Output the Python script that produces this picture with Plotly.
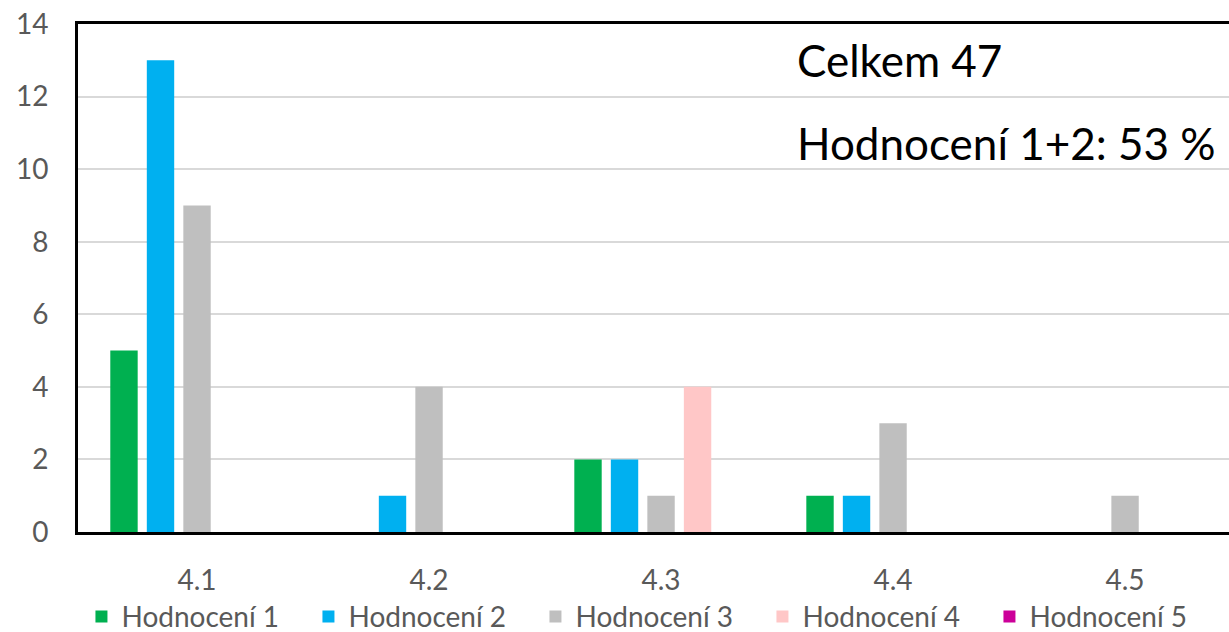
import plotly.graph_objects as go

categories = ["4.1", "4.2", "4.3", "4.4", "4.5"]
series_names = ["Hodnocení 1", "Hodnocení 2", "Hodnocení 3", "Hodnocení 4", "Hodnocení 5"]
hodnoceni_1 = [5, 0, 2, 1, 0]
hodnoceni_2 = [13, 1, 2, 1, 0]
hodnoceni_3 = [9, 4, 1, 3, 1]
hodnoceni_4 = [0, 0, 4, 0, 0]
hodnoceni_5 = [0, 0, 0, 0, 0]
colors = ["#00B050", "#00B0F0", "#BFBFBF", "#FFC7C7", "#CC0099"]
y_ticks = [0, 2, 4, 6, 8, 10, 12, 14]
annotation_lines = ["Celkem 47", "Hodnocení 1+2: 53 %"]

FONT = "Lato"
GRAY = "#595959"

fig = go.Figure()
for name, vals, col in zip(series_names,
                           [hodnoceni_1, hodnoceni_2, hodnoceni_3, hodnoceni_4, hodnoceni_5],
                           colors):
    fig.add_trace(go.Bar(name=name, x=categories, y=vals, marker_color=col,
                         marker_line_width=0))

fig.update_layout(
    width=1229, height=632,
    margin=dict(l=78, r=0, t=24, b=100, pad=0, autoexpand=False),
    paper_bgcolor="white", plot_bgcolor="white",
    barmode="group", bargap=0.213, bargroupgap=0.25,
    font=dict(family=FONT, color=GRAY),
    showlegend=True,
    legend=dict(orientation="h", x=0.003, xanchor="left", y=-0.167, yanchor="middle",
                font=dict(family=FONT, size=28, color=GRAY),
                entrywidth=182, entrywidthmode="pixels",
                itemsizing="constant", traceorder="normal"),
)
fig.update_xaxes(type="category", range=[-0.513, 4.448],
                 showline=True, linecolor="black", linewidth=3, mirror=True,
                 showgrid=False, ticks="", ticklabelstandoff=21,
                 tickfont=dict(family=FONT, size=28, color=GRAY))
fig.update_yaxes(range=[0, 14], tickvals=y_ticks,
                 showline=True, linecolor="black", linewidth=3, mirror=False,
                 showgrid=True, gridcolor="#D9D9D9", gridwidth=2,
                 zeroline=False, ticks="", ticklabelstandoff=21,
                 tickfont=dict(family=FONT, size=28, color=GRAY))

fig.add_annotation(text=annotation_lines[0], xref="paper", yref="paper",
                   x=(795 - 78) / 1151, y=(532 - 60) / 508, xanchor="left", yanchor="middle",
                   showarrow=False, font=dict(family=FONT, size=44, color="black"))
fig.add_annotation(text=annotation_lines[1], xref="paper", yref="paper",
                   x=(795 - 78) / 1151, y=(532 - 143) / 508, xanchor="left", yanchor="middle",
                   showarrow=False, font=dict(family=FONT, size=44, color="black"))

fig.write_html("out.html", config={"displayModeBar": False},
               post_script="document.body.style.margin='0px';document.body.style.overflow='hidden';")
